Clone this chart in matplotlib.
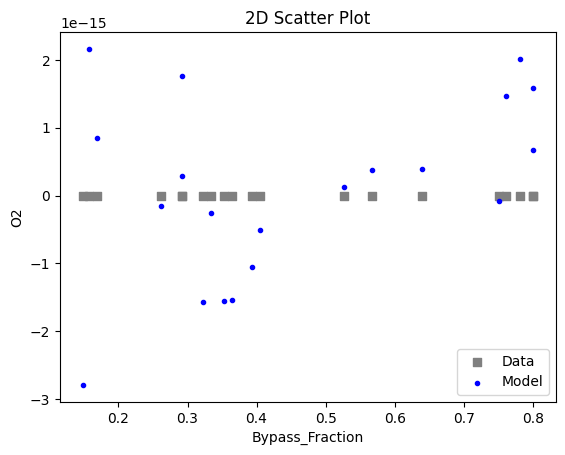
import matplotlib
matplotlib.use('Agg')
import matplotlib.pyplot as plt

# bypass fraction of each run (two runs share 0.292 and 0.801)
bypass_fraction = [0.148, 0.158, 0.1686, 0.261, 0.292, 0.292, 0.322, 0.334,
                   0.353, 0.364, 0.394, 0.405, 0.526, 0.567, 0.640, 0.751,
                   0.761, 0.781, 0.801, 0.801]
o2_data = [0.0] * 20
o2_model = [-2.796e-15, 2.167e-15, 0.852e-15, -0.152e-15, 1.768e-15, 0.291e-15,
            -1.570e-15, -0.256e-15, -1.555e-15, -1.540e-15, -1.053e-15, -0.507e-15,
            0.128e-15, 0.380e-15, 0.394e-15, -0.078e-15, 1.473e-15, 2.019e-15,
            1.591e-15, 0.675e-15]

fig = plt.figure(figsize=(5.65, 4.55), dpi=100)
ax = fig.add_axes([60 / 565, 1 - 402 / 455, 496 / 565, 370 / 455])

ax.scatter(bypass_fraction, o2_data, c='gray', marker='s', label='Data')
ax.scatter(bypass_fraction, o2_model, c='b', marker='.', label='Model')

ax.set_title('2D Scatter Plot')
ax.set_xlabel('Bypass_Fraction')
ax.set_ylabel('O2')
ax.legend(loc='lower right')

fig.savefig('out.png', dpi=100)
